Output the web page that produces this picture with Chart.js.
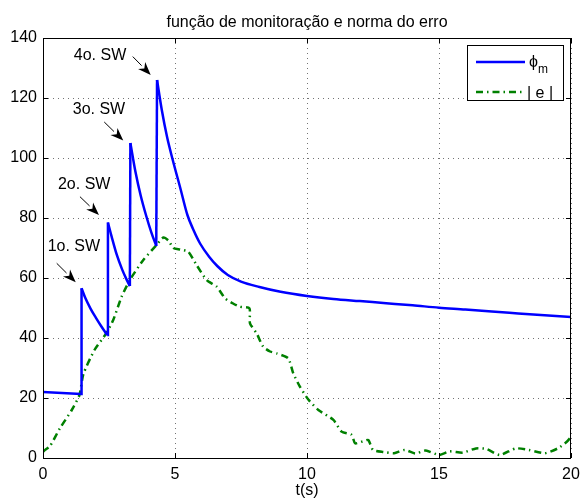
<!DOCTYPE html>
<html>
<head>
<meta charset="utf-8">
<script src="https://cdn.jsdelivr.net/npm/chart.js@4/dist/chart.umd.min.js"></script>
<style>
  html, body { margin: 0; padding: 0; background: #fff; }
  #wrap { width: 581px; height: 499px; }
</style>
</head>
<body>
<div id="wrap"><canvas id="myChart"></canvas></div>
<script>
// phi_m (monitoring function)
const phiT = [0, 1.44, 1.46, 1.6, 1.8, 2.0, 2.2, 2.43, 2.46, 2.6, 2.8, 3.0, 3.15, 3.29, 3.31, 3.5, 3.7, 3.9, 4.1, 4.29, 4.32,
  4.5, 4.7, 4.91, 5.2, 5.47, 5.7, 5.95, 6.3, 6.6, 7.0, 7.5, 8.2, 9.0, 10, 11, 12, 13, 14, 15, 16, 17, 18, 19, 20];
const phiV = [22, 21.3, 56.6, 53.4, 49.8, 46.8, 44, 41, 78.5, 73.8, 67.6, 62.8, 59.8, 57.3, 105, 95.5, 87.5, 81, 75.3, 70.7, 126,
  116, 107, 99.5, 90, 81, 76, 71.5, 67, 64, 61, 58.8, 57, 55.4, 54, 53, 52.3, 51.6, 50.9, 50.1, 49.5, 48.8, 48.2, 47.6, 47];

// |e| (error norm)
const errT = [0, 0.08, 0.27, 0.64, 1.09, 1.38, 1.53, 1.95, 2.39, 2.66, 2.98, 3.3, 3.8, 4.3, 4.56, 4.75, 4.94, 5.2, 5.5, 5.82,
  6.2, 6.58, 6.9, 7.2, 7.46, 7.82, 7.84, 8.09, 8.34, 8.6, 8.85, 9.29, 9.48, 9.73, 10.05, 10.43, 11.0, 11.31, 11.69, 11.82,
  12.1, 12.32, 12.5, 12.9, 13.3, 13.7, 14.1, 14.5, 15.0, 15.4, 15.9, 16.4, 16.8, 17.3, 17.9, 18.4, 19.0, 19.5, 19.84, 20];
const errV = [2, 2.7, 4, 9.9, 16, 21, 28, 36, 41.5, 46, 53.8, 59.5, 66, 71, 73.5, 72.5, 70, 69.5, 68.8, 64.3,
  59.3, 57.1, 53.2, 51.5, 50.4, 49.9, 44.9, 41.6, 37.1, 35.5, 34.9, 33.2, 28.2, 23.8, 19.5, 16, 12.7, 8.8, 7.7, 4.9,
  5.5, 6, 2.7, 2, 1.6, 2.7, 1.5, 2.5, 1, 2.2, 1.8, 3.2, 3, 1, 3.2, 2.7, 1.6, 3.2, 5.4, 7];

const xTicks = [0, 5, 10, 15, 20];
const yTicks = [0, 20, 40, 60, 80, 100, 120, 140];

// switch annotations: label, text position, arrow tail, arrow head (data units)
const swLabels = ['1o. SW', '2o. SW', '3o. SW', '4o. SW'];
const swText = [[1.17, 70.4], [1.56, 91.3], [2.12, 116], [2.16, 134]];
const swTail = [[0.52, 64.9], [1.4, 87.1], [2.32, 112], [3.4, 133.8]];
const swHead = [[1.24, 58.6], [2.12, 81], [3.04, 105.8], [4.08, 127.7]];

const titleText = 'função de monitoração e norma do erro';
const xLabel = 't(s)';

const FONT = 'Liberation Sans, Arial, Helvetica, sans-serif';
const BLUE = '#0000ff';
const GREEN = '#008000';

// split phi_m into straight jumps and smooth decays so the corners stay sharp
function phiDatasets() {
  const sets = [];
  let cur = [{ x: phiT[0], y: phiV[0] }];
  let smooth = false;
  for (let i = 1; i < phiT.length; i++) {
    const p = { x: phiT[i], y: phiV[i] };
    const rising = phiV[i] > phiV[i - 1];
    if (rising !== !smooth && cur.length > 1) {
      sets.push({ pts: cur, smooth });
      cur = [cur[cur.length - 1]];
    }
    smooth = !rising;
    cur.push(p);
  }
  sets.push({ pts: cur, smooth });
  // first flat piece and the jumps are straight; decays are smooth
  return sets.map((s, k) => ({
    label: k === 0 ? '\u03d5m' : '',
    data: s.pts,
    borderColor: BLUE,
    borderWidth: 2.5,
    pointRadius: 0,
    fill: false,
    cubicInterpolationMode: (s.smooth && s.pts.length > 3) ? 'monotone' : 'default',
    tension: 0
  }));
}

const decor = {
  id: 'decor',
  afterDatasetsDraw(chart) {
    const ctx = chart.ctx;
    const a = chart.chartArea;
    const xs = chart.scales.x, ys = chart.scales.y;
    ctx.save();
    // box
    ctx.strokeStyle = '#000';
    ctx.lineWidth = 1;
    ctx.setLineDash([]);
    ctx.strokeRect(a.left + 0.5, a.top + 0.5, a.right - a.left - 1, a.bottom - a.top);
    // inward ticks
    ctx.beginPath();
    xTicks.forEach(v => {
      const px = Math.round(xs.getPixelForValue(v)) + 0.5;
      ctx.moveTo(px, a.bottom); ctx.lineTo(px, a.bottom - 5);
      ctx.moveTo(px, a.top); ctx.lineTo(px, a.top + 5);
    });
    yTicks.forEach(v => {
      const py = Math.round(ys.getPixelForValue(v)) + 0.5;
      ctx.moveTo(a.left, py); ctx.lineTo(a.left + 5, py);
      ctx.moveTo(a.right, py); ctx.lineTo(a.right - 5, py);
    });
    ctx.stroke();

    // title and x label
    ctx.fillStyle = '#000';
    ctx.textAlign = 'center';
    ctx.textBaseline = 'alphabetic';
    ctx.font = '16px ' + FONT;
    ctx.fillText(titleText, (a.left + a.right) / 2, 27);
    ctx.fillText(xLabel, (a.left + a.right) / 2, 495);

    // annotations
    ctx.font = '16px ' + FONT;
    ctx.textBaseline = 'middle';
    swLabels.forEach((lab, i) => {
      ctx.fillText(lab, xs.getPixelForValue(swText[i][0]), ys.getPixelForValue(swText[i][1]));
      const x0 = xs.getPixelForValue(swTail[i][0]), y0 = ys.getPixelForValue(swTail[i][1]);
      const x1 = xs.getPixelForValue(swHead[i][0]), y1 = ys.getPixelForValue(swHead[i][1]);
      const ang = Math.atan2(y1 - y0, x1 - x0);
      const hl = 13, hw = 5;
      const bx = x1 - hl * Math.cos(ang), by = y1 - hl * Math.sin(ang);
      ctx.beginPath();
      ctx.moveTo(x0, y0); ctx.lineTo(bx, by);
      ctx.stroke();
      ctx.beginPath();
      ctx.moveTo(x1, y1);
      ctx.lineTo(bx + hw * Math.sin(ang), by - hw * Math.cos(ang));
      ctx.lineTo(bx + 0.3 * hl * Math.cos(ang), by + 0.3 * hl * Math.sin(ang));
      ctx.lineTo(bx - hw * Math.sin(ang), by + hw * Math.cos(ang));
      ctx.closePath();
      ctx.fill();
    });

    // legend
    const lx = 467, ly = 45, lw = 96, lh = 55;
    ctx.fillStyle = '#fff';
    ctx.fillRect(lx, ly, lw, lh);
    ctx.strokeStyle = '#000';
    ctx.strokeRect(lx + 0.5, ly + 0.5, lw, lh);
    ctx.lineWidth = 2.5;
    ctx.strokeStyle = BLUE;
    ctx.beginPath(); ctx.moveTo(476, 62); ctx.lineTo(525, 62); ctx.stroke();
    ctx.strokeStyle = GREEN;
    ctx.setLineDash([7, 4, 1.5, 4]);
    ctx.beginPath(); ctx.moveTo(476, 92); ctx.lineTo(525, 92); ctx.stroke();
    ctx.setLineDash([]);
    ctx.fillStyle = '#000';
    ctx.textAlign = 'left';
    ctx.textBaseline = 'alphabetic';
    ctx.font = '16px ' + FONT;
    ctx.fillText('\u03d5', 529, 67);
    ctx.font = '12px ' + FONT;
    ctx.fillText('m', 538, 73);
    ctx.font = '16px ' + FONT;
    ctx.fillText('| e |', 527, 98);
    ctx.restore();
  }
};

const noPad = s => { s.paddingLeft = 0; s.paddingRight = 0; s.paddingTop = 0; s.paddingBottom = 0; };

const ctx = document.getElementById('myChart');
const myChart = new Chart(ctx, {
  type: 'line',
  data: {
    datasets: phiDatasets().concat([{
      label: '| e |',
      data: errT.map((t, i) => ({ x: t, y: errV[i] })),
      borderColor: GREEN,
      borderWidth: 2.5,
      borderDash: [7, 4, 1.5, 4],
      pointRadius: 0,
      fill: false,
      tension: 0.2
    }])
  },
  options: {
    responsive: true,
    maintainAspectRatio: false,
    animation: false,
    layout: { padding: { top: 38, right: 10, left: 0, bottom: 0 } },
    plugins: { legend: { display: false }, tooltip: { enabled: false } },
    scales: {
      x: {
        type: 'linear', min: 0, max: 20,
        afterBuildTicks: s => { s.ticks = xTicks.map(v => ({ value: v })); },
        afterFit: s => { s.height = 41; noPad(s); },
        ticks: { font: { size: 16, family: FONT }, color: '#000', padding: 7, maxRotation: 0 },
        grid: { color: 'rgba(0,0,0,0.55)', lineWidth: 1, drawTicks: false },
        border: { display: false, dash: [1, 4] }
      },
      y: {
        min: 0, max: 140,
        afterBuildTicks: s => { s.ticks = yTicks.map(v => ({ value: v })); },
        afterFit: s => { s.width = 43; noPad(s); },
        ticks: { font: { size: 16, family: FONT }, color: '#000', padding: 6 },
        grid: { color: 'rgba(0,0,0,0.55)', lineWidth: 1, drawTicks: false },
        border: { display: false, dash: [1, 4] }
      }
    }
  },
  plugins: [decor]
});
</script>
</body>
</html>
